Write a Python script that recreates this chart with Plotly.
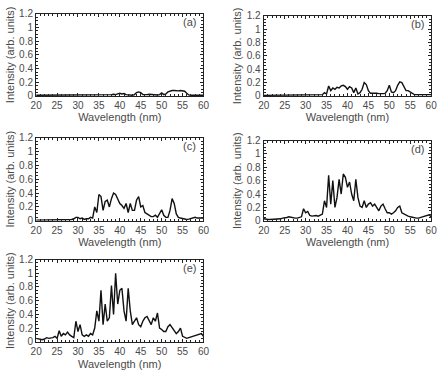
import plotly.graph_objects as go

WAVELENGTH = [20 + 0.5 * i for i in range(81)]

SPEC_A = [0.01]*10 + [0.01]*10 + [0.01]*10 + \
    [0.01, 0.01, 0.01, 0.01, 0.015, 0.015, 0.02, 0.025, 0.02, 0.03] + \
    [0.04, 0.03, 0.035, 0.02, 0.015, 0.015, 0.01, 0.02, 0.05, 0.06] + \
    [0.05, 0.02, 0.015, 0.02, 0.025, 0.02, 0.015, 0.015, 0.015, 0.02] + \
    [0.045, 0.02, 0.03, 0.06, 0.075, 0.08, 0.08, 0.075, 0.075, 0.08] + \
    [0.08, 0.07, 0.04, 0.015, 0.01, 0.01, 0.01, 0.01, 0.01, 0.01] + [0.01]

SPEC_B = [0.01]*10 + [0.01]*10 + \
    [0.01, 0.01, 0.01, 0.01, 0.01, 0.01, 0.015, 0.02, 0.02, 0.05] + \
    [0.03, 0.15, 0.08, 0.12, 0.10, 0.13, 0.12, 0.15, 0.16, 0.14] + \
    [0.10, 0.14, 0.12, 0.05, 0.12, 0.03, 0.05, 0.10, 0.20, 0.17] + \
    [0.08, 0.04, 0.04, 0.05, 0.04, 0.035, 0.03, 0.035, 0.04, 0.08] + \
    [0.16, 0.06, 0.05, 0.08, 0.16, 0.21, 0.20, 0.13, 0.08, 0.08] + \
    [0.06, 0.04, 0.02, 0.02, 0.02, 0.025, 0.03, 0.025, 0.02, 0.02] + [0.02]

SPEC_C = [0.01]*10 + \
    [0.01, 0.01, 0.015, 0.01, 0.015, 0.02, 0.015, 0.02, 0.03, 0.05] + \
    [0.05, 0.03, 0.04, 0.02, 0.03, 0.03, 0.05, 0.04, 0.20, 0.12] + \
    [0.38, 0.35, 0.15, 0.28, 0.30, 0.20, 0.32, 0.40, 0.38, 0.30] + \
    [0.25, 0.22, 0.18, 0.25, 0.12, 0.25, 0.15, 0.15, 0.30, 0.35] + \
    [0.20, 0.22, 0.12, 0.10, 0.08, 0.06, 0.06, 0.08, 0.05, 0.10] + \
    [0.16, 0.08, 0.05, 0.05, 0.15, 0.32, 0.25, 0.10, 0.05, 0.04] + \
    [0.03, 0.025, 0.02, 0.025, 0.03, 0.04, 0.05, 0.04, 0.04, 0.04] + [0.04]

SPEC_D = [0.03, 0.02, 0.02, 0.02, 0.02, 0.03, 0.02, 0.03, 0.03, 0.04] + \
    [0.04, 0.05, 0.06, 0.05, 0.05, 0.04, 0.04, 0.05, 0.06, 0.18] + \
    [0.12, 0.14, 0.08, 0.07, 0.08, 0.08, 0.07, 0.09, 0.10, 0.30] + \
    [0.20, 0.68, 0.25, 0.60, 0.20, 0.35, 0.62, 0.40, 0.70, 0.65] + \
    [0.50, 0.58, 0.40, 0.30, 0.62, 0.35, 0.22, 0.20, 0.30, 0.20] + \
    [0.25, 0.27, 0.22, 0.25, 0.20, 0.15, 0.22, 0.25, 0.18, 0.12] + \
    [0.12, 0.10, 0.12, 0.15, 0.20, 0.22, 0.12, 0.10, 0.08, 0.07] + \
    [0.06, 0.05, 0.05, 0.04, 0.04, 0.05, 0.05, 0.06, 0.08, 0.09] + [0.06]

SPEC_E = [0.05, 0.04, 0.03, 0.03, 0.04, 0.06, 0.05, 0.05, 0.06, 0.08] + \
    [0.05, 0.16, 0.08, 0.12, 0.10, 0.14, 0.10, 0.08, 0.06, 0.30] + \
    [0.15, 0.25, 0.10, 0.08, 0.10, 0.08, 0.12, 0.10, 0.20, 0.45] + \
    [0.30, 0.75, 0.25, 0.55, 0.30, 0.35, 0.82, 0.40, 1.00, 0.55] + \
    [0.75, 0.78, 0.45, 0.30, 0.78, 0.45, 0.25, 0.30, 0.35, 0.25] + \
    [0.22, 0.30, 0.35, 0.37, 0.30, 0.25, 0.35, 0.30, 0.42, 0.20] + \
    [0.18, 0.15, 0.15, 0.22, 0.25, 0.20, 0.15, 0.12, 0.15, 0.20] + \
    [0.08, 0.06, 0.05, 0.06, 0.07, 0.08, 0.08, 0.10, 0.10, 0.12] + [0.08]

PANEL_LABELS = ["(a)", "(b)", "(c)", "(d)", "(e)"]
SPECTRA = [SPEC_A, SPEC_B, SPEC_C, SPEC_D, SPEC_E]
Y_TICKS = [0, 0.2, 0.4, 0.6, 0.8, 1.0, 1.2]
Y_TICK_TEXT = ["0", "0.2", "0.4", "0.6", "0.8", "1", "1.2"]
X_TICKS = [20, 25, 30, 35, 40, 45, 50, 55, 60]
X_TITLE = "Wavelength (nm)"
Y_TITLE = "Intensity (arb. units)"

W, H = 442, 371
# pixel boxes: (left, right, top, bottom)
BOXES = [(31, 203, 8, 93), (265, 437, 10, 93),
         (31, 203, 136, 222), (265, 437, 139, 222),
         (31, 203, 262, 347)]

FONT = "Liberation Sans, Arial, sans-serif"
TXT = "#4a4a4a"

fig = go.Figure()
layout = dict(width=W, height=H, margin=dict(l=0, r=0, t=0, b=0),
              paper_bgcolor="white", plot_bgcolor="white", showlegend=False,
              font=dict(family=FONT, color=TXT, size=10))
annotations = []
for i, (spec, lab, box) in enumerate(zip(SPECTRA, PANEL_LABELS, BOXES)):
    n = "" if i == 0 else str(i + 1)
    fig.add_trace(go.Scatter(x=WAVELENGTH, y=spec, mode="lines",
                             line=dict(color="#111111", width=1.4),
                             xaxis="x" + n, yaxis="y" + n))
    l, r, t, b = box
    common = dict(showline=True, linecolor="#222222", linewidth=1.3, mirror="ticks",
                  ticks="inside", tickcolor="#222222", ticklen=3, tickwidth=1,
                  showgrid=False, zeroline=False,
                  tickfont=dict(family=FONT, size=10, color=TXT))
    last = (i == 4)
    xtitle = None if last else dict(text=X_TITLE, standoff=1,
                                    font=dict(family=FONT, size=11, color=TXT))
    layout["xaxis" + n] = dict(common, domain=[l / W, r / W], anchor="y" + n,
                               range=[20, 60], tickvals=X_TICKS,
                               minor=dict(dtick=1, ticks="inside", ticklen=2,
                                          tickcolor="#222222"),
                               title=xtitle)
    layout["yaxis" + n] = dict(common, domain=[1 - b / H, 1 - t / H], anchor="x" + n,
                               range=[0, 1.2], tickvals=Y_TICKS, ticktext=Y_TICK_TEXT,
                               minor=dict(dtick=0.05, ticks="inside", ticklen=2,
                                          tickcolor="#222222"),
                               title=dict(text=Y_TITLE, standoff=2,
                                          font=dict(family=FONT, size=11, color=TXT)))
    annotations.append(dict(text=lab, xref="x" + n + " domain", yref="y" + n + " domain",
                            x=0.97, y=0.9, xanchor="right", yanchor="middle",
                            showarrow=False, font=dict(family=FONT, size=11, color=TXT)))
    if last:
        annotations.append(dict(text=X_TITLE, xref="x" + n + " domain", yref="paper",
                                x=0.5, y=0, xanchor="center", yanchor="bottom",
                                yshift=-6, showarrow=False, borderpad=0,
                                font=dict(family=FONT, size=11, color=TXT)))
layout["annotations"] = annotations
fig.update_layout(**layout)
fig.write_html("out.html")
